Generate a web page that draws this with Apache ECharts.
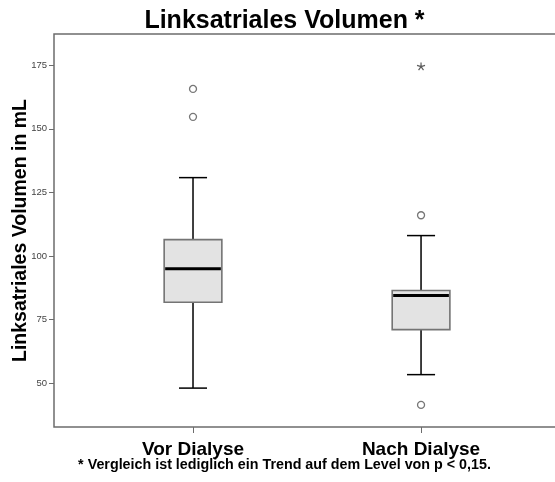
<!DOCTYPE html>
<html>
<head>
<meta charset="utf-8">
<title>Linksatriales Volumen</title>
<script src="https://cdn.jsdelivr.net/npm/echarts@6/dist/echarts.min.js"></script>
<style>
  html, body { margin: 0; padding: 0; background: #fff; }
  #chart { width: 555px; height: 482px; }
</style>
</head>
<body>
<div id="chart"></div>
<script>
// Groups and their box-plot statistics (mL)
const categories = ['Vor Dialyse', 'Nach Dialyse'];
const whiskerLow = [48, 53.3];
const quartile1 = [81.8, 71];
const medians = [95, 84.4];
const quartile3 = [106.4, 86.4];
const whiskerHigh = [130.8, 108];

// Outliers (circles) and extreme values (asterisks): group index + value
const outlierGroup = [0, 0, 1, 1];
const outlierValue = [154.7, 165.7, 116, 41.4];
const extremeGroup = [1];
const extremeValue = [174.6];

// Value-axis ticks
const yTicks = [50, 75, 100, 125, 150, 175];

const FONT = 'Liberation Sans, Arial, sans-serif';
const boxWidth = 0.253;   // in x-axis units (one unit = distance between groups)
const capWidth = 0.123;

const boxData = categories.map((c, i) => [i, whiskerLow[i], quartile1[i], medians[i], quartile3[i], whiskerHigh[i]]);
const outlierData = outlierGroup.map((g, i) => [g, outlierValue[i]]);
const extremeData = extremeGroup.map((g, i) => [g, extremeValue[i]]);

const chart = echarts.init(document.getElementById('chart'), null, { renderer: 'canvas' });

function renderBox(params, api) {
  const x = api.value(0);
  const pLo = api.coord([x, api.value(1)]);
  const pQ1 = api.coord([x, api.value(2)]);
  const pMed = api.coord([x, api.value(3)]);
  const pQ3 = api.coord([x, api.value(4)]);
  const pHi = api.coord([x, api.value(5)]);
  const bw = api.size([boxWidth, 0])[0];
  const cw = api.size([capWidth, 0])[0];
  const cx = pMed[0];
  const whisker = { stroke: '#000', lineWidth: 1.5 };
  return {
    type: 'group',
    children: [
      { type: 'line', shape: { x1: cx, y1: pHi[1], x2: cx, y2: pQ3[1] }, style: whisker },
      { type: 'line', shape: { x1: cx, y1: pQ1[1], x2: cx, y2: pLo[1] }, style: whisker },
      { type: 'line', shape: { x1: cx - cw / 2, y1: pHi[1], x2: cx + cw / 2, y2: pHi[1] }, style: whisker },
      { type: 'line', shape: { x1: cx - cw / 2, y1: pLo[1], x2: cx + cw / 2, y2: pLo[1] }, style: whisker },
      { type: 'rect', shape: { x: cx - bw / 2, y: pQ3[1], width: bw, height: pQ1[1] - pQ3[1] },
        style: { fill: '#e3e3e3', stroke: '#747474', lineWidth: 1.6 } },
      { type: 'line', shape: { x1: cx - bw / 2 + 1, y1: pMed[1], x2: cx + bw / 2 - 1, y2: pMed[1] },
        style: { stroke: '#000', lineWidth: 3 } }
    ]
  };
}

const option = {
  animation: false,
  backgroundColor: '#fff',
  grid: {
    left: 54, top: 34, right: -4, bottom: 55,
    outerBoundsMode: 'none',
    containLabel: false,
    show: true, borderColor: '#6c6c6c', borderWidth: 1.5, backgroundColor: 'transparent'
  },
  graphic: [
    { type: 'text', style: { x: 284.5, y: 21, text: 'Linksatriales Volumen *', textAlign: 'center', textVerticalAlign: 'middle',
      font: 'bold 25px ' + FONT, fill: '#000' } },
    { type: 'text', style: { x: 284.5, y: 465, text: '* Vergleich ist lediglich ein Trend auf dem Level von p < 0,15.', textAlign: 'center', textVerticalAlign: 'middle',
      font: 'bold 14.3px ' + FONT, fill: '#000' } }
  ],
  xAxis: {
    type: 'value',
    min: -0.6096,
    max: 1.605,
    axisLine: { show: false, onZero: false },
    splitLine: { show: false },
    axisTick: { show: true, customValues: [0, 1], length: 6, lineStyle: { color: '#6c6c6c', width: 1 } },
    axisLabel: {
      customValues: [0, 1],
      formatter: v => categories[Math.round(v)] || '',
      margin: 23, verticalAlign: 'middle',
      fontFamily: FONT, fontWeight: 'bold', fontSize: 19, color: '#000'
    }
  },
  yAxis: {
    type: 'value',
    min: 32.7,
    max: 187.3,
    name: 'Linksatriales Volumen in mL',
    nameLocation: 'middle',
    nameGap: 23,
    nameMoveOverlap: false,
    nameTextStyle: { fontFamily: FONT, fontWeight: 'bold', fontSize: 19.5, color: '#000' },
    axisLine: { show: false, onZero: false },
    splitLine: { show: false },
    axisTick: { show: true, customValues: yTicks, length: 5, lineStyle: { color: '#6c6c6c', width: 1 } },
    axisLabel: { customValues: yTicks, margin: 7, fontFamily: FONT, fontSize: 9.5, color: '#444' }
  },
  series: [
    {
      type: 'custom',
      renderItem: renderBox,
      encode: { x: 0, y: [1, 2, 3, 4, 5] },
      data: boxData,
      z: 2
    },
    {
      type: 'scatter',
      data: outlierData,
      symbol: 'circle',
      symbolSize: 7,
      itemStyle: { color: '#fff', borderColor: '#555', borderWidth: 1.3 },
      z: 3
    },
    {
      type: 'scatter',
      data: extremeData,
      symbol: 'path://M0,0L0,-5M0,0L4.76,-1.55M0,0L2.94,4.05M0,0L-2.94,4.05M0,0L-4.76,-1.55',
      symbolSize: 8,
      symbolKeepAspect: true,
      itemStyle: { color: 'none', borderColor: '#333', borderWidth: 1.2 },
      z: 3
    }
  ]
};

chart.setOption(option);
</script>
</body>
</html>
